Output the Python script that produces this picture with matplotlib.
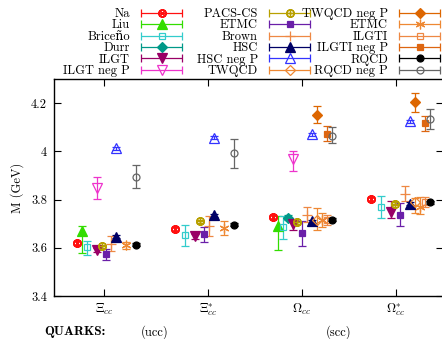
import numpy as np
import matplotlib
matplotlib.use('Agg')
import matplotlib.pyplot as plt
from matplotlib.legend_handler import HandlerErrorbar
from matplotlib.ticker import FormatStrFormatter

plt.rcParams['font.family'] = ['cmr10', 'DejaVu Serif']
plt.rcParams['mathtext.fontset'] = 'cm'
plt.rcParams['axes.formatter.use_mathtext'] = True

nan = np.nan
baryons = [r'$\Xi_{cc}$', r'$\Xi^{*}_{cc}$', r'$\Omega_{cc}$', r'$\Omega^{*}_{cc}$']

# masses (GeV) and lower / upper errors, order: Xi_cc, Xi_cc*, Omega_cc, Omega_cc*
na_m = [3.619, 3.679, 3.727, 3.803]
na_lo = [0.008, 0.008, 0.008, 0.008]
na_hi = [0.008, 0.008, 0.008, 0.008]

liu_m = [3.670, nan, 3.689, nan]
liu_lo = [0.092, nan, 0.100, nan]
liu_hi = [0.022, nan, 0.042, nan]

bri_m = [3.603, 3.651, 3.685, 3.770]
bri_lo = [0.033, 0.045, 0.049, 0.046]
bri_hi = [0.027, 0.045, 0.046, 0.044]

durr_m = [nan, nan, 3.724, nan]
durr_lo = [nan, nan, 0.010, nan]
durr_hi = [nan, nan, 0.010, nan]

ilgt_m = [3.590, 3.647, 3.697, 3.747]
ilgt_lo = [0.008, 0.010, 0.024, 0.023]
ilgt_hi = [0.008, 0.010, 0.023, 0.047]

ilgtn_m = [3.849, nan, 3.967, nan]
ilgtn_lo = [0.046, nan, 0.049, nan]
ilgtn_hi = [0.044, nan, 0.034, nan]

pacs_m = [3.607, 3.710, 3.706, 3.783]
pacs_lo = [0.006, 0.006, 0.006, 0.006]
pacs_hi = [0.006, 0.006, 0.006, 0.006]

etmc_m = [3.573, 3.656, 3.661, 3.738]
etmc_lo = [0.023, 0.032, 0.055, 0.049]
etmc_hi = [0.022, 0.029, 0.052, 0.048]

brown_m = [3.615, 3.689, 3.738, 3.824]
brown_lo = [0.030, 0.042, 0.032, 0.030]
brown_hi = [0.032, 0.042, 0.032, 0.032]

hsc_m = [3.646, 3.735, 3.709, 3.782]
hsc_lo = [0.006, 0.006, 0.006, 0.006]
hsc_hi = [0.006, 0.006, 0.006, 0.006]

hscn_m = [4.013, 4.057, 4.071, 4.124]
hscn_lo = [0.006, 0.006, 0.006, 0.006]
hscn_hi = [0.006, 0.006, 0.006, 0.006]

tw_m = [nan, nan, 3.714, 3.789]
tw_lo = [nan, nan, 0.040, 0.045]
tw_hi = [nan, nan, 0.050, 0.018]

twn_m = [nan, nan, 4.151, 4.204]
twn_lo = [nan, nan, 0.034, 0.040]
twn_hi = [nan, nan, 0.035, 0.037]

etmc2_m = [3.611, 3.682, 3.715, 3.770]
etmc2_lo = [0.014, 0.028, 0.030, 0.030]
etmc2_hi = [0.014, 0.031, 0.030, 0.040]

ilgti_m = [nan, nan, 3.716, 3.789]
ilgti_lo = [nan, nan, 0.020, 0.020]
ilgti_hi = [nan, nan, 0.020, 0.020]

ilgtin_m = [nan, nan, 4.073, 4.117]
ilgtin_lo = [nan, nan, 0.030, 0.032]
ilgtin_hi = [nan, nan, 0.033, 0.030]

rq_m = [3.612, 3.696, 3.717, 3.789]
rq_lo = [0.006, 0.006, 0.006, 0.006]
rq_hi = [0.006, 0.006, 0.006, 0.006]

rqn_m = [3.894, 3.994, 4.064, 4.136]
rqn_lo = [0.045, 0.062, 0.028, 0.044]
rqn_hi = [0.049, 0.056, 0.035, 0.041]

# label, data, slot within group, colour, marker, filled
series = [
    ('Na', na_m, na_lo, na_hi, 0, '#ff1010', r'$\otimes$', True),
    ('Liu', liu_m, liu_lo, liu_hi, 1, '#33dd00', '^', True),
    ('Brice\u00f1o', bri_m, bri_lo, bri_hi, 2, '#33cccc', 's', False),
    ('Durr', durr_m, durr_lo, durr_hi, 3, '#009988', 'D', True),
    ('ILGT', ilgt_m, ilgt_lo, ilgt_hi, 4, '#990066', 'v', True),
    ('ILGT neg P', ilgtn_m, ilgtn_lo, ilgtn_hi, 4, '#ee33cc', 'v', False),
    ('PACS-CS', pacs_m, pacs_lo, pacs_hi, 5, '#b8a000', r'$\oplus$', True),
    ('ETMC', etmc_m, etmc_lo, etmc_hi, 6, '#6a1fa8', 's', True),
    ('Brown', brown_m, brown_lo, brown_hi, 7, '#ee8844', '+', True),
    ('HSC', hsc_m, hsc_lo, hsc_hi, 8, '#000066', '^', True),
    ('HSC neg P', hscn_m, hscn_lo, hscn_hi, 8, '#3333ff', '^', False),
    ('TWQCD', tw_m, tw_lo, tw_hi, 9, '#ee8833', 'D', False),
    ('TWQCD neg P', twn_m, twn_lo, twn_hi, 9, '#dd6600', 'D', True),
    ('ETMC', etmc2_m, etmc2_lo, etmc2_hi, 10, '#ee8833', (6, 2, 0), True),
    ('ILGTI', ilgti_m, ilgti_lo, ilgti_hi, 11, '#ee8844', 's', False),
    ('ILGTI neg P', ilgtin_m, ilgtin_lo, ilgtin_hi, 11, '#dd6611', 's', True),
    ('RQCD', rq_m, rq_lo, rq_hi, 12, '#000000', 'o', True),
    ('RQCD neg P', rqn_m, rqn_lo, rqn_hi, 12, '#666666', 'o', False),
]

fig = plt.figure(figsize=(4.42, 3.39), dpi=100)
ax = fig.add_axes([54 / 442, 1 - 296 / 339, 389 / 442, 217 / 339])

step = 0.05
groups = np.arange(len(baryons))
sizes = {r'$\otimes$': 5.5, r'$\oplus$': 5.5, '+': 7, (6, 2, 0): 7,
         '^': 6.5, 'v': 6.5, 'D': 5.5, 's': 5, 'o': 5}
proxies = []
for label, m, lo, hi, k, col, mk, filled in series:
    mfc = col if filled else 'none'
    kw = dict(color=col, marker=mk, ms=sizes[mk], mfc=mfc, mec=col, mew=0.9,
              ls='none', elinewidth=0.9, capsize=3, capthick=0.9)
    ax.errorbar(groups + k * step, m, yerr=[lo, hi], **kw)
    proxies.append(ax.errorbar([nan], [nan], xerr=[1], **kw))

ax.set_xlim(-0.235, 3.735)
ax.set_ylim(3.4, 4.3)
ax.set_xticks([0.276, 1.337, 2.296, 3.255])
ax.set_xticklabels(baryons, fontsize=10)
ax.set_yticks([3.4, 3.6, 3.8, 4.0, 4.2])
ax.yaxis.set_major_formatter(FormatStrFormatter('%g'))
ax.tick_params(direction='in', length=5, width=0.8, labelsize=9,
               top=True, right=True, pad=5)
ax.tick_params(axis='x', pad=4)
ax.set_ylabel('M (GeV)', fontsize=9, labelpad=5)
for s in ax.spines.values():
    s.set_linewidth(1.0)

# legend: three columns, label left of handle
hmap = {type(proxies[0]): HandlerErrorbar(xerr_size=1.64)}
rights = [182, 310, 440]
for c in range(3):
    leg = fig.legend(proxies[c * 6:(c + 1) * 6],
                     [s[0] for s in series[c * 6:(c + 1) * 6]],
                     loc='upper right', bbox_to_anchor=(rights[c] / 442, 1 - 8 / 339),
                     bbox_transform=fig.transFigure, frameon=False, fontsize=9,
                     markerfirst=False, handlelength=3.28, handletextpad=0.88,
                     labelspacing=-0.06, borderpad=0, borderaxespad=0,
                     handler_map=hmap, numpoints=1)

fig.text(75 / 442, 1 - 332 / 339, 'QUARKS:', fontfamily='cmb10', fontsize=9.5,
         ha='center', va='center')
fig.text(155 / 442, 1 - 332 / 339, '(ucc)', fontsize=9, ha='center', va='center')
fig.text(339 / 442, 1 - 332 / 339, '(scc)', fontsize=9, ha='center', va='center')

fig.savefig('out.png', dpi=100)
